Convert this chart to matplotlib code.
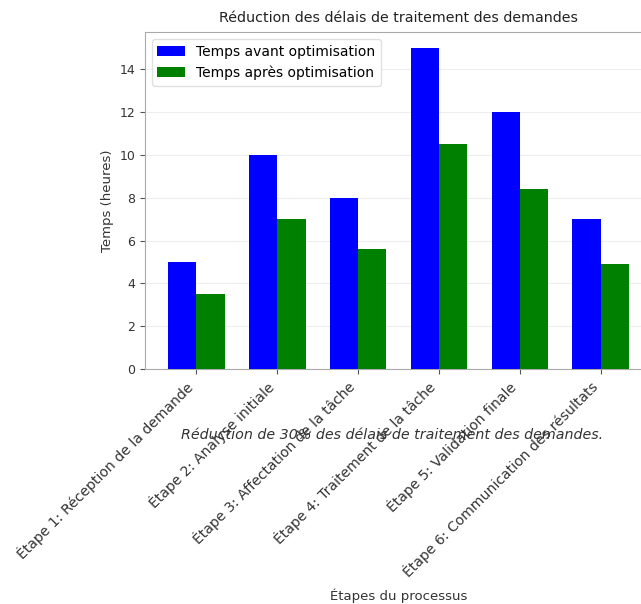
import numpy as np
import matplotlib
matplotlib.use("Agg")
import matplotlib.pyplot as plt

etapes = [
    "Étape 1: Réception de la demande",
    "Étape 2: Analyse initiale",
    "Étape 3: Affectation de la tâche",
    "Étape 4: Traitement de la tâche",
    "Étape 5: Validation finale",
    "Étape 6: Communication des résultats",
]
temps_avant = [5, 10, 8, 15, 12, 7]
temps_apres = [3.5, 7, 5.6, 10.5, 8.4, 4.9]

plt.rcParams["font.family"] = ["DejaVu Sans"]

fig = plt.figure(figsize=(6.41, 6.04), dpi=100)
ax = fig.add_axes([0.2262, 0.389, 0.791, 0.558])

x = np.arange(len(etapes))
width = 0.35
ax.bar(x - width / 2, temps_avant, width, color="blue", label="Temps avant optimisation", zorder=3)
ax.bar(x + width / 2, temps_apres, width, color="green", label="Temps après optimisation", zorder=3)

ax.set_title("Réduction des délais de traitement des demandes", fontsize=10.3, pad=7, color="#222222")
ax.set_ylabel("Temps (heures)", fontsize=9.5, color="#333333")
ax.set_xlabel("Étapes du processus", fontsize=9.5, labelpad=6, color="#333333")
ax.set_xticks(x)
ax.set_xticklabels(etapes, rotation=45, ha="right", fontsize=10.1)
ax.tick_params(axis="y", labelsize=9)
ax.tick_params(colors="#555555", labelcolor="#333333")
ax.yaxis.grid(True, color="#eeeeee", linewidth=0.8, zorder=0)
for s in ax.spines.values():
    s.set_color("#aaaaaa")

ax.legend(loc="upper left", fontsize=10, framealpha=0.9, edgecolor="#dddddd")

fig.text(0.612, 0.279, "Réduction de 30% des délais de traitement des demandes.",
         ha="center", va="center", fontsize=10.3, style="italic", color="#333333")

fig.savefig("out.png", dpi=100)
